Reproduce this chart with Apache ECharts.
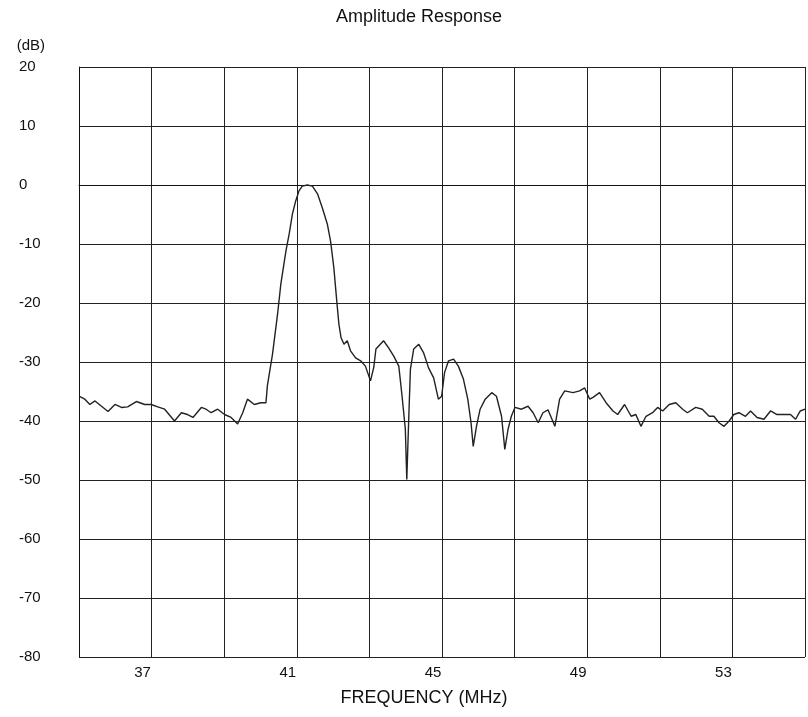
<!DOCTYPE html>
<html>
<head>
<meta charset="utf-8">
<script src="https://cdn.jsdelivr.net/npm/echarts@6/dist/echarts.min.js"></script>
<style>
html,body{margin:0;padding:0;background:#fff;overflow:hidden;}
#chart{width:808px;height:717px;}
</style>
</head>
<body>
<div id="chart"></div>
<script>
const titleText = 'Amplitude Response';
const xAxisName = 'FREQUENCY (MHz)';
const yAxisName = '(dB)';
const xLabels = [37, 41, 45, 49, 53];

const freq = [35.00,35.16,35.30,35.44,35.62,35.80,35.99,36.17,36.34,36.58,36.81,36.99,37.17,37.36,37.63,37.82,37.99,38.14,38.37,38.50,38.64,38.82,39.01,39.19,39.37,39.51,39.64,39.83,40.01,40.15,40.19,40.33,40.47,40.56,40.70,40.79,40.88,40.97,41.06,41.15,41.29,41.43,41.57,41.70,41.84,41.93,42.02,42.10,42.16,42.22,42.30,42.39,42.48,42.62,42.76,42.89,43.03,43.12,43.18,43.39,43.53,43.67,43.81,43.90,43.99,44.03,44.08,44.13,44.22,44.36,44.49,44.63,44.77,44.90,44.99,45.07,45.18,45.32,45.45,45.59,45.71,45.80,45.86,45.95,46.05,46.19,46.37,46.50,46.64,46.73,46.82,46.91,47.01,47.19,47.37,47.51,47.65,47.78,47.92,48.11,48.24,48.38,48.61,48.79,48.93,49.07,49.16,49.34,49.52,49.71,49.84,50.03,50.21,50.34,50.48,50.62,50.80,50.94,51.08,51.26,51.44,51.63,51.76,51.99,52.17,52.36,52.49,52.63,52.77,52.91,53.04,53.18,53.36,53.50,53.68,53.87,54.05,54.23,54.42,54.60,54.74,54.87,55.00];
const amplitude = [-35.8,-36.3,-37.2,-36.6,-37.5,-38.4,-37.2,-37.7,-37.6,-36.7,-37.2,-37.2,-37.6,-38.0,-40.0,-38.6,-38.9,-39.4,-37.7,-38.0,-38.6,-38.0,-38.9,-39.4,-40.5,-38.6,-36.3,-37.2,-36.9,-36.9,-34.0,-28.7,-21.9,-16.8,-11.2,-8.3,-4.9,-2.7,-1.0,-0.2,0.0,-0.2,-1.5,-3.8,-6.6,-9.5,-14.0,-19.6,-23.6,-25.9,-27.0,-26.4,-28.1,-29.3,-29.8,-30.7,-33.2,-30.9,-27.8,-26.4,-27.6,-29.0,-30.7,-35.8,-41.4,-49.9,-40.3,-31.2,-27.8,-27.0,-28.4,-31.0,-32.7,-36.3,-35.8,-31.8,-29.8,-29.5,-30.7,-32.9,-36.3,-40.3,-44.3,-40.9,-38.0,-36.3,-35.2,-35.8,-39.2,-44.8,-41.4,-39.2,-37.7,-38.0,-37.5,-38.6,-40.3,-38.6,-38.1,-40.9,-36.3,-34.9,-35.2,-34.9,-34.4,-36.3,-36.0,-35.2,-36.9,-38.3,-38.9,-37.2,-39.2,-38.9,-40.9,-39.2,-38.6,-37.7,-38.3,-37.2,-36.9,-38.0,-38.6,-37.7,-38.0,-39.2,-39.2,-40.3,-40.9,-40.0,-38.9,-38.6,-39.2,-38.3,-39.4,-39.7,-38.3,-38.9,-38.9,-38.9,-39.7,-38.3,-38.0];

const seriesData = freq.map((f, i) => [f, amplitude[i]]);

const chart = echarts.init(document.getElementById('chart'));
const font = 'Liberation Sans';
chart.setOption({
  animation: false,
  backgroundColor: '#ffffff',
  graphic: [
    {type: 'text', left: 336, top: 8, style: {text: titleText, font: '18px "Liberation Sans"', fill: '#111'}}
  ],
  grid: {left: 79, top: 67, width: 732, height: 590},
  xAxis: {
    type: 'value', min: 35, max: 55, interval: 2,
    name: xAxisName, nameLocation: 'middle', nameGap: 32,
    nameTextStyle: {fontFamily: font, fontSize: 18, color: '#111', padding: [0, 36, 0, 0]},
    axisLine: {show: true, lineStyle: {color: '#111', width: 1}},
    axisTick: {show: false},
    axisLabel: {
      margin: 8, fontFamily: font, fontSize: 15, color: '#111',
      formatter: v => xLabels.includes(v) ? v + '' : '',
      padding: [0, 18, 0, 0]
    },
    splitLine: {show: true, lineStyle: {color: '#222', width: 1}}
  },
  yAxis: {
    type: 'value', min: -80, max: 20, interval: 10,
    name: yAxisName, nameLocation: 'end', nameGap: 14,
    nameTextStyle: {fontFamily: font, fontSize: 15, color: '#111', align: 'right', padding: [0, 34, 0, 0]},
    axisLine: {show: true, lineStyle: {color: '#111', width: 1}},
    axisTick: {show: false},
    axisLabel: {margin: 60, align: 'left', fontFamily: font, fontSize: 15, color: '#111'},
    splitLine: {show: true, lineStyle: {color: '#222', width: 1}}
  },
  series: [{
    type: 'line', data: seriesData, showSymbol: false, symbol: 'none',
    lineStyle: {color: '#222', width: 1.4}, smooth: false
  }]
});
</script>
</body>
</html>
